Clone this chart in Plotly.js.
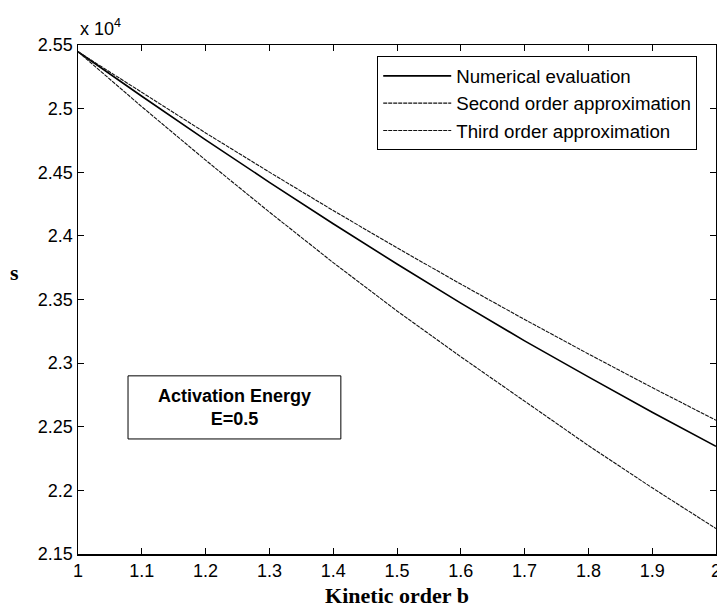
<!DOCTYPE html>
<html>
<head>
<meta charset="utf-8">
<script src="https://cdn.plot.ly/plotly-3.0.1.min.js"></script>
<style>
  html, body { margin: 0; padding: 0; background: #fff; }
  #chart { width: 717px; height: 609px; }
</style>
</head>
<body>
<div id="chart"></div>
<script>
// Kinetic order b
const kineticOrder = [1.0, 1.1, 1.2, 1.3, 1.4, 1.5, 1.6, 1.7, 1.8, 1.9, 2.0];
// s values (raw, axis shows x 10^4)
const numericalEvaluation = [25447, 25097, 24755, 24421, 24095, 23779, 23472, 23175, 22892, 22614, 22346];
const secondOrderApprox   = [25447, 25015, 24595, 24187, 23790, 23410, 23050, 22700, 22352, 22020, 21700];
const thirdOrderApprox    = [25447, 25125, 24809, 24501, 24199, 23906, 23621, 23343, 23072, 22808, 22551];

const seriesNames = ["Numerical evaluation", "Second order approximation", "Third order approximation"];
const xTickVals = [1, 1.1, 1.2, 1.3, 1.4, 1.5, 1.6, 1.7, 1.8, 1.9, 2];
const xTickText = ["1", "1.1", "1.2", "1.3", "1.4", "1.5", "1.6", "1.7", "1.8", "1.9", "2"];
const yTickVals = [21500, 22000, 22500, 23000, 23500, 24000, 24500, 25000, 25500];
const yTickText = ["2.15", "2.2", "2.25", "2.3", "2.35", "2.4", "2.45", "2.5", "2.55"];

const sans = "Liberation Sans, Arial, sans-serif";
const serif = "Liberation Serif, Times New Roman, serif";

const traces = [
  { x: kineticOrder, y: numericalEvaluation, name: seriesNames[0], mode: "lines",
    line: { color: "#000", width: 1.6 } },
  { x: kineticOrder, y: secondOrderApprox, name: seriesNames[1], mode: "lines",
    line: { color: "#111", width: 1.1, dash: "4px,1px" } },
  { x: kineticOrder, y: thirdOrderApprox, name: seriesNames[2], mode: "lines",
    line: { color: "#111", width: 1.1, dash: "4px,1px" } }
];

const axisCommon = {
  showline: true, linecolor: "#000", linewidth: 1.5, mirror: "ticks",
  ticks: "inside", ticklen: 6, tickwidth: 1, tickcolor: "#000",
  showgrid: false, zeroline: false, ticklabeloverflow: "allow",
  tickfont: { family: sans, size: 18, color: "#000" }
};

const layout = {
  width: 717, height: 609,
  margin: { l: 78, r: 1, t: 45, b: 55 },
  paper_bgcolor: "#fff", plot_bgcolor: "#fff",
  showlegend: true,
  legend: {
    x: 0.469, y: 0.978, xanchor: "left", yanchor: "top",
    bgcolor: "#fff", bordercolor: "#000", borderwidth: 1,
    font: { family: sans, size: 18.7, color: "#000" },
    itemwidth: 68, tracegroupgap: 0
  },
  xaxis: Object.assign({}, axisCommon, {
    range: [1, 2], tickvals: xTickVals, ticktext: xTickText,
    title: { text: "Kinetic order b", font: { family: serif, size: 22, color: "#000", weight: "bold" }, standoff: 7 }
  }),
  yaxis: Object.assign({}, axisCommon, {
    range: [21500, 25500], tickvals: yTickVals, ticktext: yTickText
  }),
  shapes: [
    { type: "rect", xref: "paper", yref: "paper", x0: 0.0784, x1: 0.412, y0: 0.226, y1: 0.350,
      line: { color: "#000", width: 1 }, fillcolor: "#fff", layer: "above" }
  ],
  annotations: [
    { xref: "paper", yref: "paper", x: 0.245, y: 0.288, xanchor: "center", yanchor: "middle",
      text: "<b>Activation Energy</b><br><b>E=0.5</b>", showarrow: false,
      font: { family: sans, size: 18, color: "#000" } },
    { xref: "paper", yref: "paper", x: 0, y: 1, xanchor: "left", yanchor: "bottom", yshift: 4,
      text: "x 10<sup>4</sup>", showarrow: false,
      font: { family: sans, size: 18, color: "#000" } },
    { xref: "paper", yref: "paper", x: -0.1, y: 0.553, xanchor: "center", yanchor: "middle",
      text: "<b>s</b>", showarrow: false,
      font: { family: serif, size: 22, color: "#000" } }
  ]
};

Plotly.newPlot("chart", traces, layout, { displayModeBar: false, staticPlot: true });
</script>
</body>
</html>
